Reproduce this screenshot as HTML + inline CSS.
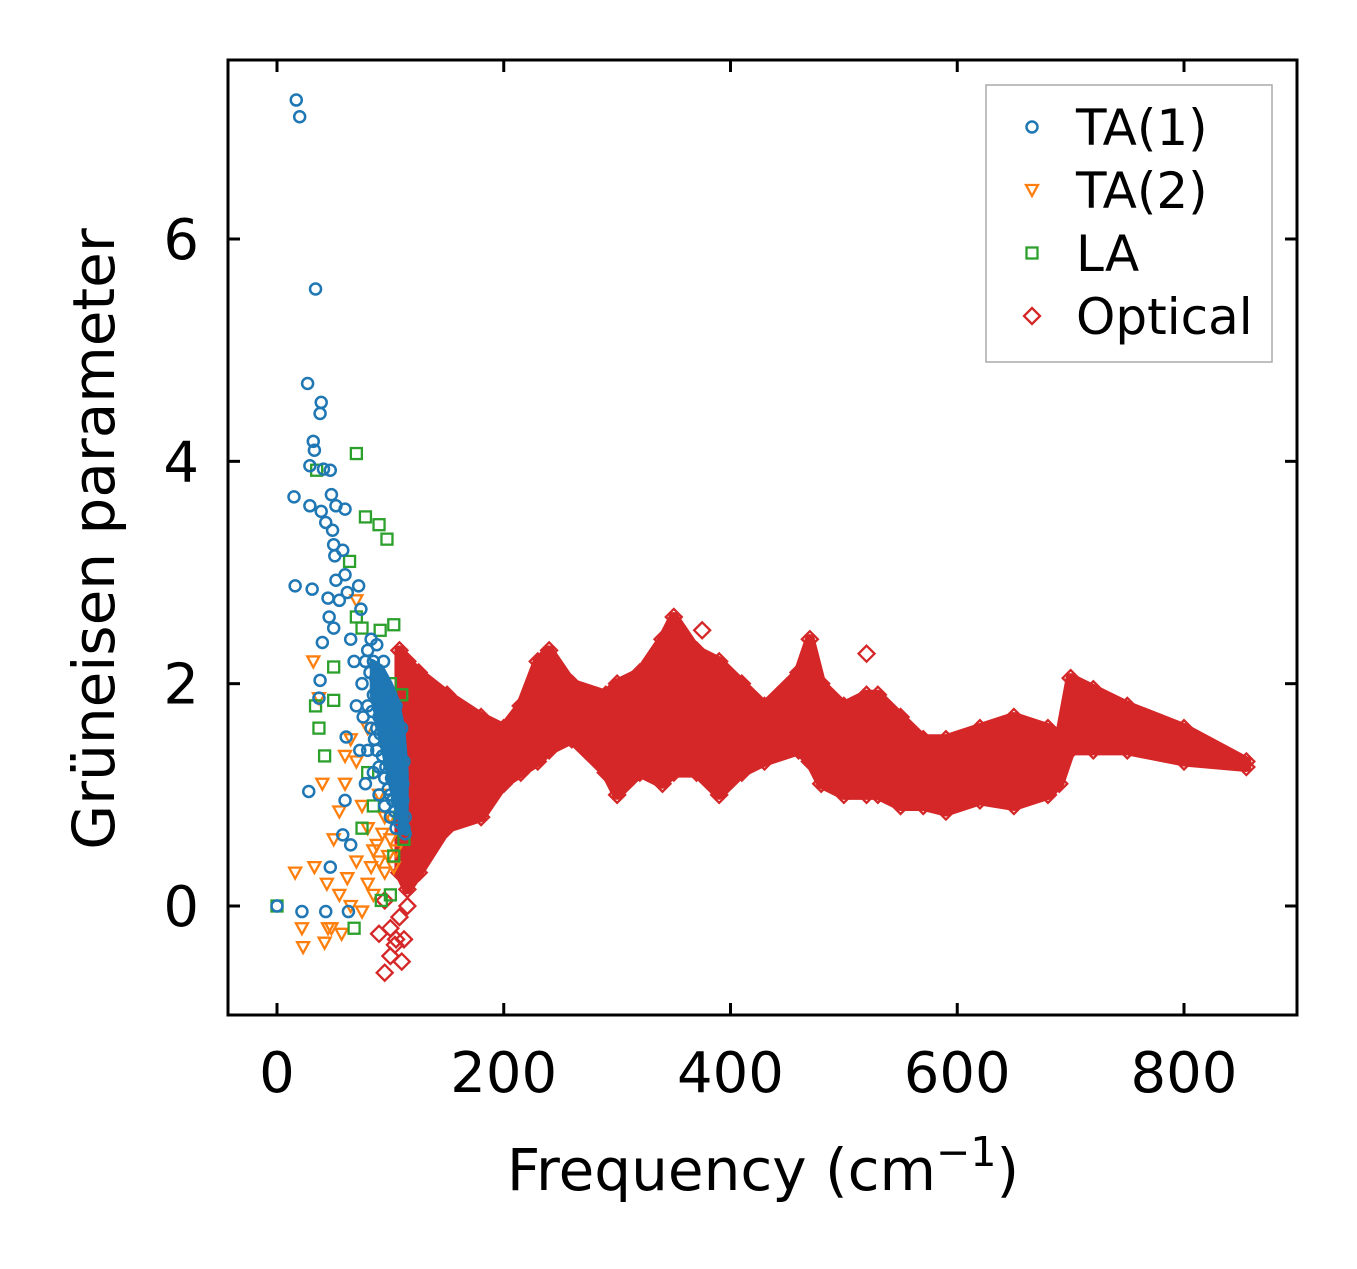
<!DOCTYPE html>
<html><head><meta charset="utf-8"><style>
html,body{margin:0;padding:0;background:#fff;}
svg text{font-family:"DejaVu Sans","Liberation Sans",sans-serif;fill:#000;}
</style></head><body>
<svg id="chart" width="1357" height="1264" viewBox="0 0 1357 1264" xmlns="http://www.w3.org/2000/svg">
<rect width="1357" height="1264" fill="#fff"/>
<g id="plot"></g>
<g id="axes"></g>
</svg>
<script>
const xTicks=[0,200,400,600,800];
const yTicks=[0,2,4,6];
const optFreq=[108,115,125,150,180,200,215,230,240,260,290,300,320,340,350,370,390,410,430,460,470,480,500,520,530,550,570,590,620,650,680,690,700,720,750,800,855];
const optLow=[0.3,0.15,0.3,0.7,0.8,1.1,1.2,1.3,1.4,1.5,1.2,1.0,1.2,1.1,1.2,1.2,1.0,1.2,1.3,1.4,1.3,1.1,1.0,1.0,1.0,0.9,0.9,0.85,0.95,0.9,1.0,1.1,1.4,1.4,1.4,1.3,1.25];
const optHigh=[2.3,2.2,2.1,1.9,1.7,1.6,1.8,2.2,2.3,2.0,1.9,2.0,2.1,2.4,2.6,2.3,2.2,2.0,1.8,2.1,2.4,2.0,1.8,1.9,1.9,1.7,1.5,1.5,1.6,1.7,1.6,1.5,2.05,1.95,1.8,1.6,1.3];
const optScatter=[[95,-0.6],[100,-0.45],[105,-0.3],[110,-0.5],[100,-0.2],[90,-0.25],[108,-0.1],[115,0.0],[95,0.05],[104,-0.35],[112,-0.3],[520,2.27],[375,2.48]];
const ta1DenseFreq=[84,92,100,106,111,114];
const ta1DenseHigh=[2.2,2.15,2.0,1.85,1.6,1.2];
const ta1DenseLow=[1.9,1.5,1.1,0.85,0.7,0.65];
const ta1=[[17,7.25],[20,7.1],[34,5.55],[27,4.7],[39,4.53],[38,4.43],[32,4.18],[33,4.1],[29,3.96],[41,3.93],[47,3.92],[15,3.68],[48,3.7],[29,3.6],[39,3.55],[52,3.6],[60,3.57],[43,3.45],[49,3.38],[50,3.25],[58,3.2],[51,3.15],[16,2.88],[31,2.85],[60,2.98],[52,2.93],[72,2.88],[45,2.77],[62,2.82],[55,2.75],[46,2.6],[50,2.5],[74,2.67],[40,2.37],[38,2.03],[37,1.87],[28,1.03],[61,1.52],[60,0.95],[58,0.64],[65,0.55],[47,0.35],[0,0],[22,-0.05],[43,-0.05],[63,-0.05],[80,2.3],[85,2.2],[90,2.1],[95,2.0],[100,1.9],[105,1.8],[110,1.6],[85,1.9],[90,1.7],[95,1.5],[100,1.3],[105,1.1],[110,0.9],[112,0.7],[80,1.4],[85,1.2],[90,1.0],[95,0.9],[100,0.8],[105,0.7],[80,1.8],[75,2.0],[70,1.8],[88,2.35],[93,1.95],[98,1.6],[103,1.4],[108,1.2],[113,0.8],[83,1.6],[88,1.4],[78,1.1],[73,1.4],[68,2.2],[65,2.4],[100,1.0],[107,1.5],[112,1.3],[90,1.25],[95,1.15],[110,1.05],[102,0.95],[82,2.1],[87,2.05],[92,1.85],[97,1.75],[102,1.65],[106,1.35],[109,1.25],[111,1.1],[104,0.85],[108,0.75],[98,1.05],[93,1.35],[88,1.6],[84,1.75],[96,1.25],[101,1.15],[106,0.95],[111,0.95],[113,0.65],[86,1.5],[91,1.55],[76,1.7],[78,2.2],[83,2.4],[94,2.2]];
const ta2=[[32,2.2],[37,1.87],[16,0.3],[33,0.35],[22,-0.2],[23,-0.37],[42,-0.33],[45,-0.2],[55,0.1],[44,0.2],[50,0.6],[40,1.1],[60,1.35],[70,2.75],[65,1.5],[75,0.9],[80,0.7],[85,0.5],[90,0.4],[95,0.3],[100,0.6],[70,0.4],[65,0.0],[80,0.2],[85,0.1],[55,0.85],[60,1.1],[70,1.3],[80,1.6],[90,1.0],[100,0.8],[105,0.5],[75,-0.05],[95,0.8],[57,-0.25],[48,-0.2],[62,0.25],[88,0.55],[93,0.65],[98,0.45],[103,0.35],[83,0.35]];
const la=[[70,4.07],[78,3.5],[90,3.43],[97,3.3],[35,3.92],[64,3.1],[103,2.53],[91,2.48],[50,2.15],[34,1.8],[37,1.6],[42,1.35],[50,1.85],[70,2.6],[75,2.5],[100,2.0],[105,1.5],[110,1.0],[108,0.8],[103,0.45],[100,0.1],[92,0.05],[68,-0.2],[80,1.2],[85,0.9],[75,0.7],[95,1.8],[110,1.9],[112,0.6],[0,0]];
const legendLabels=["TA(1)","TA(2)","LA","Optical"];
const colors=["#1f77b4","#ff7f0e","#2ca02c","#d62728"];

const X0=228,X1=1297,Y0=60,Y1=1015;
function xs(v){return 277+v*(1184-277)/800;}
function ys(v){return 906-v*(906-239)/6;}
const NS="http://www.w3.org/2000/svg";
function mk(tag,attrs,parent){const e=document.createElementNS(NS,tag);for(const k in attrs)e.setAttribute(k,attrs[k]);parent.appendChild(e);return e;}
const plot=document.getElementById('plot'),axes=document.getElementById('axes');

function marker(type,cx,cy,color,parent){
  let e;
  if(type===0)e=mk('circle',{cx:cx,cy:cy,r:5.5,fill:'none',stroke:color,'stroke-width':2.5},parent);
  else if(type===1)e=mk('polygon',{points:`${cx-6},${cy-5} ${cx+6},${cy-5} ${cx},${cy+6}`,fill:'none',stroke:color,'stroke-width':2.3},parent);
  else if(type===2)e=mk('rect',{x:cx-5.5,y:cy-5.5,width:11,height:11,fill:'none',stroke:color,'stroke-width':2.3},parent);
  else e=mk('polygon',{points:`${cx},${cy-8} ${cx+8},${cy} ${cx},${cy+8} ${cx-8},${cy}`,fill:'none',stroke:color,'stroke-width':2.3},parent);
  return e;
}
function bandPoly(fr,hi,lo,color,sw){
  let p=[];
  for(let i=0;i<fr.length;i++)p.push(xs(fr[i])+','+ys(hi[i]));
  for(let i=fr.length-1;i>=0;i--)p.push(xs(fr[i])+','+ys(lo[i]));
  return mk('polygon',{points:p.join(' '),fill:color,stroke:color,'stroke-width':sw,'stroke-linejoin':'round'},plot);
}

const band=bandPoly(optFreq,optHigh,optLow,colors[3],10);


for(let i=0;i<optFreq.length;i++){
  const a=marker(3,xs(optFreq[i]),ys(optHigh[i]),colors[3],plot);
  
  
  const b=marker(3,xs(optFreq[i]),ys(optLow[i]),colors[3],plot);
  
  
}
optScatter.forEach(p=>{
  const e=marker(3,xs(p[0]),ys(p[1]),colors[3],plot);
  
  
});
[[ta2,1],[la,2]].forEach(([arr,t])=>{
  arr.forEach(p=>{
    const e=marker(t,xs(p[0]),ys(p[1]),colors[t],plot);
    
    
  });
});
const tb=bandPoly(ta1DenseFreq,ta1DenseHigh,ta1DenseLow,colors[0],5);


ta1.forEach(p=>{
  const e=marker(0,xs(p[0]),ys(p[1]),colors[0],plot);
  
  
});

const fr=mk('rect',{x:X0,y:Y0,width:X1-X0,height:Y1-Y0,fill:'none',stroke:'#000','stroke-width':3},axes);


xTicks.forEach(v=>{
  const x=xs(v);
  mk('line',{x1:x,y1:Y1,x2:x,y2:Y1-12,stroke:'#000','stroke-width':3},axes);
  mk('line',{x1:x,y1:Y0,x2:x,y2:Y0+12,stroke:'#000','stroke-width':3},axes);
  const t=mk('text',{x:x,y:1092,'font-size':56,'text-anchor':'middle'},axes);
  t.textContent=v;
  
  
});
yTicks.forEach(v=>{
  const y=ys(v);
  mk('line',{x1:X0,y1:y,x2:X0+12,y2:y,stroke:'#000','stroke-width':3},axes);
  mk('line',{x1:X1,y1:y,x2:X1-12,y2:y,stroke:'#000','stroke-width':3},axes);
  const t=mk('text',{x:199,y:y+20,'font-size':56,'text-anchor':'end'},axes);
  t.textContent=v;
  
  
});
const xt=mk('text',{x:763,y:1190,'font-size':58,'text-anchor':'middle'},axes);
xt.innerHTML='Frequency (cm<tspan dy="-24" font-size="41">−1</tspan><tspan dy="24">)</tspan>';


const yt=mk('text',{x:0,y:0,'font-size':58,'text-anchor':'middle',transform:'translate(114,539) rotate(-90)'},axes);
yt.textContent='Grüneisen parameter';



const lg=mk('g',{},axes);


mk('rect',{x:986,y:85,width:286,height:277,fill:'#fff',stroke:'#aaa','stroke-width':1.5},lg);
legendLabels.forEach((l,i)=>{
  const y=127+i*63;
  const g=mk('g',{},lg);
  
  
  marker(i,1032,y,colors[i],g);
  const t=mk('text',{x:1076,y:y+18,'font-size':50},g);
  t.textContent=l;
});
</script>
</body></html>
